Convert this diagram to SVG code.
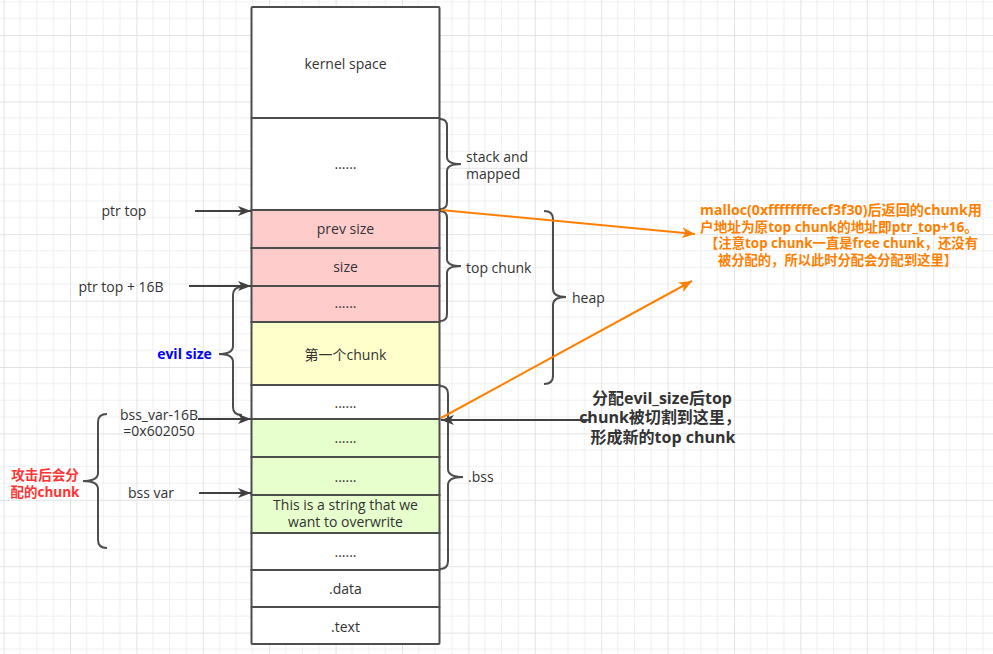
<svg xmlns="http://www.w3.org/2000/svg" width="993" height="654" viewBox="0 0 993 654">
<defs>
<pattern id="grid" patternUnits="userSpaceOnUse" x="3.6" y="35" width="66.4" height="66.4">
<path d="M16.6,0V66.4M33.2,0V66.4M49.8,0V66.4M0,16.6H66.4M0,33.2H66.4M0,49.8H66.4" stroke="#f0f0f0" stroke-width="1" fill="none"/>
<path d="M0.5,0V66.4M0,0.5H66.4" stroke="#e3e3e3" stroke-width="1" fill="none"/>
</pattern>
<marker id="ah" markerUnits="userSpaceOnUse" markerWidth="14" markerHeight="10" refX="13" refY="5" orient="auto">
<path d="M0,0 L13,5 L0,10 L3.5,5 z" fill="#404040"/>
</marker>
<marker id="ao" markerUnits="userSpaceOnUse" markerWidth="14" markerHeight="11" refX="13" refY="5.5" orient="auto">
<path d="M0,0 L13,5.5 L0,11 L3.5,5.5 z" fill="#ff8000"/>
</marker>
</defs>
<style>
.cell{stroke:#4d4d4d;stroke-width:2}
.t{font-family:"Open Sans","Noto Sans CJK SC",sans-serif;font-size:14px;fill:#333333}
.m{text-anchor:middle}
.brace{fill:none;stroke:#4d4d4d;stroke-width:2}
.arr{stroke:#404040;stroke-width:2;fill:none;marker-end:url(#ah)}
.oarr{stroke:#ff8000;stroke-width:2;fill:none;marker-end:url(#ao)}
.ob{font-family:"Open Sans","Noto Sans CJK SC",sans-serif;font-size:13.5px;font-weight:bold;fill:#ff8000;text-anchor:middle}
</style>
<rect width="993" height="654" fill="#ffffff"/>
<rect width="993" height="654" fill="url(#grid)"/>

<g id="column">
<g id="kernel"><rect class="cell" x="251.5" y="7" width="188" height="111" fill="#ffffff" rx="1"/><text class="t m" x="345.5" y="69">kernel space</text></g>
<g id="stack"><rect class="cell" x="251.5" y="118" width="188" height="92" fill="#ffffff"/><text class="t m" x="345.5" y="169">......</text></g>
<g id="prevsize"><rect class="cell" x="251.5" y="210" width="188" height="38" fill="#ffcccc"/><text class="t m" x="345.5" y="234">prev size</text></g>
<g id="size"><rect class="cell" x="251.5" y="248" width="188" height="38" fill="#ffcccc"/><text class="t m" x="345.5" y="272">size</text></g>
<g id="topdots"><rect class="cell" x="251.5" y="286" width="188" height="36" fill="#ffcccc"/><text class="t m" x="345.5" y="308">......</text></g>
<g id="firstchunk"><rect class="cell" x="251.5" y="322" width="188" height="63" fill="#ffffcc"/><text class="t m" x="345.5" y="360">第一个chunk</text></g>
<g id="gapdots"><rect class="cell" x="251.5" y="385" width="188" height="34" fill="#ffffff"/><text class="t m" x="345.5" y="408">......</text></g>
<g id="green1"><rect class="cell" x="251.5" y="419" width="188" height="38" fill="#e6ffcc"/><text class="t m" x="345.5" y="443">......</text></g>
<g id="green2"><rect class="cell" x="251.5" y="457" width="188" height="38" fill="#e6ffcc"/><text class="t m" x="345.5" y="482">......</text></g>
<g id="string"><rect class="cell" x="251.5" y="495" width="188" height="38" fill="#e6ffcc"/><text class="t m" x="345.5" y="510">This is a string that we</text><text class="t m" x="345.5" y="527">want to overwrite</text></g>
<g id="bssdots"><rect class="cell" x="251.5" y="533" width="188" height="37" fill="#ffffff"/><text class="t m" x="345.5" y="557">......</text></g>
<g id="data"><rect class="cell" x="251.5" y="570" width="188" height="37" fill="#ffffff"/><text class="t m" x="345.5" y="594">.data</text></g>
<g id="text"><rect class="cell" x="251.5" y="607" width="188" height="37" fill="#ffffff" rx="1"/><text class="t m" x="345.5" y="632">.text</text></g>
</g>

<g id="braces">
<g id="brace-stack"><path class="brace" d="M440,119 Q447,119 447,126 L447,157 Q447,164 461,164 Q447,164 447,171 L447,202 Q447,209 440,209"/><text class="t" x="466" y="162">stack and</text><text class="t" x="466" y="179">mapped</text></g>
<g id="brace-topchunk"><path class="brace" d="M440,211 Q447,211 447,218 L447,259 Q447,266 461,266 Q447,266 447,273 L447,314 Q447,321 440,321"/><text class="t" x="466" y="273">top chunk</text></g>
<g id="brace-heap"><path class="brace" d="M544,211 Q553,211 553,219 L553,289 Q553,297 566,297 Q553,297 553,305 L553,376 Q553,384 544,384"/><text class="t" x="572" y="303">heap</text></g>
<g id="brace-bss"><path class="brace" d="M440,386 Q448,386 448,394 L448,469 Q448,477 463,477 Q448,477 448,485 L448,561 Q448,569 440,569"/><text class="t" x="468" y="482">.bss</text></g>
<g id="brace-evil"><path class="brace" d="M242,287 Q233,287 233,295 L233,346 Q233,354 219,354 Q233,354 233,362 L233,407 Q233,415 242,415"/><text x="184.5" y="359" text-anchor="middle" style="font-family:'Open Sans','Noto Sans CJK SC',sans-serif;font-size:14px;font-weight:bold;fill:#0000ff">evil size</text></g>
<g id="brace-attack"><path class="brace" d="M107,414 Q98,414 98,422 L98,473 Q98,481 83,481 Q98,481 98,489 L98,540 Q98,548 107,548"/><text x="45" y="480" text-anchor="middle" style="font-family:'Open Sans','Noto Sans CJK SC',sans-serif;font-size:13.5px;font-weight:bold;fill:#ff3333">攻击后会分</text><text x="45" y="497" text-anchor="middle" style="font-family:'Open Sans','Noto Sans CJK SC',sans-serif;font-size:13.5px;font-weight:bold;fill:#ff3333">配的chunk</text></g>
</g>

<g id="labels">
<g id="ptrtop"><text class="t m" x="124" y="216">ptr top</text></g>
<g id="ptrtop16"><text class="t m" x="121" y="292">ptr top + 16B</text></g>
<g id="bssvar16"><text class="t m" x="159" y="420">bss_var-16B</text><text class="t m" x="159" y="436">=0x602050</text></g>
<g id="bssvar"><text class="t m" x="151" y="498">bss var</text></g>
<g id="note-split"><text class="m" x="662" y="404" style="font-family:'Open Sans','Noto Sans CJK SC',sans-serif;font-size:16px;font-weight:bold;fill:#333333">分配evil_size后top</text><text class="m" x="660" y="423" style="font-family:'Open Sans','Noto Sans CJK SC',sans-serif;font-size:16px;font-weight:bold;fill:#333333">chunk被切割到这里，</text><text class="m" x="663" y="443" style="font-family:'Open Sans','Noto Sans CJK SC',sans-serif;font-size:16px;font-weight:bold;fill:#333333">形成新的top chunk</text></g>
<g id="note-malloc">
<text class="ob" x="841" y="215" textLength="282" lengthAdjust="spacingAndGlyphs">malloc(0xffffffffecf3f30)后返回的chunk用</text>
<text class="ob" x="839" y="232" textLength="278" lengthAdjust="spacingAndGlyphs">户地址为原top chunk的地址即ptr_top+16。</text>
<text class="ob" x="841.5" y="248" textLength="273" lengthAdjust="spacingAndGlyphs">【注意top chunk一直是free chunk，还没有</text>
<text class="ob" x="837.5" y="265" textLength="239" lengthAdjust="spacingAndGlyphs">被分配的，所以此时分配会分配到这里】</text>
</g>
</g>

<g id="connectors">
<line class="arr" x1="195" y1="211" x2="251" y2="211"/>
<line class="arr" x1="189" y1="286" x2="251" y2="286"/>
<line class="arr" x1="198" y1="419" x2="251" y2="419"/>
<line class="arr" x1="199" y1="493" x2="251" y2="493"/>
<line class="arr" x1="590" y1="420" x2="441" y2="420"/>
<line class="oarr" x1="441" y1="210" x2="695" y2="234"/>
<line class="oarr" x1="441" y1="418" x2="692" y2="281"/>
</g>
</svg>
